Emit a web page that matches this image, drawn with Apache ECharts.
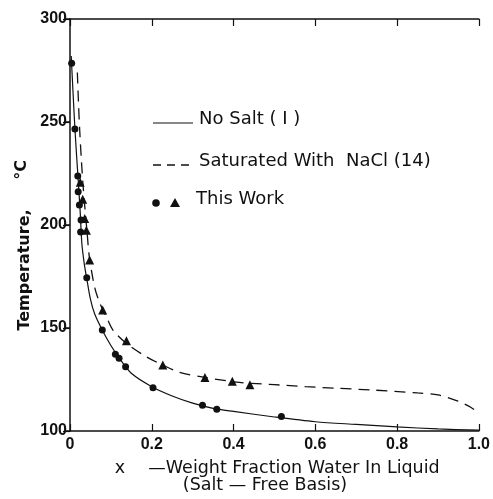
<!DOCTYPE html>
<html><head><meta charset="utf-8">
<script src="https://cdn.jsdelivr.net/npm/echarts@6/dist/echarts.min.js"></script>
<style>html,body{margin:0;padding:0;background:#fff}#c{width:493px;height:499px}</style>
</head><body><div id="c"></div>
<script>
// No salt curve (1)
const noSaltX = [0.003,0.008,0.012,0.016,0.02,0.025,0.029,0.035,0.041,0.05,0.06,0.08,0.1,0.12,0.15,0.2,0.25,0.3,0.35,0.4,0.5,0.6,0.7,0.8,0.9,1.0];
const noSaltT = [282,262,247,234,222,206,191,181,174,164,157,148.5,141.5,135.5,128,121.5,117,113.5,111,109.5,106.8,104.5,103.2,102,101,100.4];
// Saturated with NaCl curve (14)
const saltX = [0.018,0.021,0.024,0.028,0.032,0.037,0.042,0.047,0.06,0.073,0.09,0.105,0.138,0.187,0.227,0.268,0.33,0.414,0.5,0.576,0.65,0.738,0.85,0.9,0.949,0.98,1.0];
const saltT = [274,258,245,231,219,207,196,185,170,162,155,149,142.5,136,132,128.5,126,123.6,122.5,121.5,120.8,119.9,118.5,117.5,114.5,111.5,108.6];
// This work: circles (no salt)
const circX = [0.004,0.012,0.019,0.020,0.023,0.027,0.026,0.041,0.079,0.111,0.120,0.136,0.203,0.324,0.359,0.517];
const circT = [278.5,246.6,223.8,216.2,209.7,202.4,196.6,174.4,149.0,137.2,135.3,131.2,121.0,112.5,110.5,107.0];
// This work: triangles (saturated with NaCl)
const triX = [0.025,0.031,0.036,0.040,0.048,0.080,0.138,0.227,0.330,0.397,0.440];
const triT = [220.8,212.5,203.2,197.4,183.0,158.7,143.8,132.0,126.0,124.1,122.5];
// axis ticks
const xTicks = [0,0.2,0.4,0.6,0.8,1.0];
const yTicks = [100,150,200,250,300];

const zip = (a,b) => a.map((v,i)=>[v,b[i]]);
const ink = '#111';
const tickFont = {fontFamily:'Liberation Sans', fontWeight:'bold', fontSize:16, color:ink};
const legFont = '18px "DejaVu Sans"';
const titFont = '17.5px "DejaVu Sans"';
const chart = echarts.init(document.getElementById('c'));
chart.setOption({
  animation:false,
  backgroundColor:'#fff',
  grid:{left:70,right:12,top:19,bottom:68},
  xAxis:[{
    type:'value', min:xTicks[0], max:xTicks[xTicks.length-1], interval:0.2,
    axisLine:{lineStyle:{color:ink,width:1.5}},
    axisTick:{inside:true,length:7,lineStyle:{color:ink,width:1.2}},
    splitLine:{show:false},
    axisLabel:Object.assign({margin:6,formatter:v=>v===0?'0':v.toFixed(1)},tickFont)
  },{
    type:'value', position:'top', min:0, max:1, interval:0.2,
    axisLine:{lineStyle:{color:ink,width:1.5}},
    axisTick:{inside:true,length:7,lineStyle:{color:ink,width:1.2}},
    axisLabel:{show:false}, splitLine:{show:false}
  }],
  yAxis:[{
    type:'value', min:yTicks[0], max:yTicks[yTicks.length-1], interval:50,
    axisLine:{lineStyle:{color:'#333',width:1.5}},
    axisTick:{inside:false,length:6,lineStyle:{color:ink,width:1.5}},
    splitLine:{show:false},
    axisLabel:Object.assign({margin:3},tickFont)
  },{
    type:'value', position:'right', min:100, max:300, interval:50,
    axisLine:{lineStyle:{color:'#444',width:1.5}},
    axisTick:{inside:true,length:7,lineStyle:{color:ink,width:1.2}},
    axisLabel:{show:false}, splitLine:{show:false}
  }],
  series:[
    {type:'line', data:zip(noSaltX,noSaltT), smooth:0.3, showSymbol:false,
     lineStyle:{color:ink,width:1.2}},
    {type:'line', data:zip(saltX,saltT), smooth:0.3, showSymbol:false,
     lineStyle:{color:ink,width:1.3,type:[11,7]}},
    {type:'scatter', data:zip(circX,circT), symbol:'circle', symbolSize:7,
     itemStyle:{color:ink,opacity:1}},
    {type:'scatter', data:zip(triX,triT), symbol:'triangle', symbolSize:9,
     itemStyle:{color:ink,opacity:1}}
  ],
  graphic:[
    {type:'line', shape:{x1:153,y1:123,x2:193,y2:123}, style:{stroke:ink,lineWidth:1.2}},
    {type:'text', left:199, top:110, style:{text:'No Salt ( I )', font:legFont, fill:ink}},
    {type:'line', shape:{x1:153,y1:165,x2:193,y2:165}, style:{stroke:ink,lineWidth:1.3,lineDash:[8,6]}},
    {type:'text', left:199, top:152, style:{text:'Saturated With  NaCl (14)', font:legFont, fill:ink}},
    {type:'circle', shape:{cx:156,cy:203,r:3.8}, style:{fill:ink}},
    {type:'polygon', shape:{points:[[175,198],[170,207],[180,207]]}, style:{fill:ink}},
    {type:'text', left:196, top:190, style:{text:'This Work', font:legFont, fill:ink}},
    {type:'text', x:25, y:270, rotation:Math.PI/2, style:{text:'Temperature,', font:'bold 16px "DejaVu Sans"', fill:ink, align:'center', verticalAlign:'middle'}},
    {type:'text', x:22, y:170, rotation:Math.PI/2, style:{text:'°C', font:'bold 16px "DejaVu Sans"', fill:ink, align:'center', verticalAlign:'middle'}},
    {type:'text', x:120, y:468, style:{text:'x', font:titFont, fill:ink, align:'center', verticalAlign:'middle'}},
    {type:'text', x:294, y:468, style:{text:'\u2014Weight Fraction Water In Liquid', font:titFont, fill:ink, align:'center', verticalAlign:'middle'}},
    {type:'text', x:265, y:485, style:{text:'(Salt \u2014 Free Basis)', font:titFont, fill:ink, align:'center', verticalAlign:'middle'}}
  ]
});
</script></body></html>
